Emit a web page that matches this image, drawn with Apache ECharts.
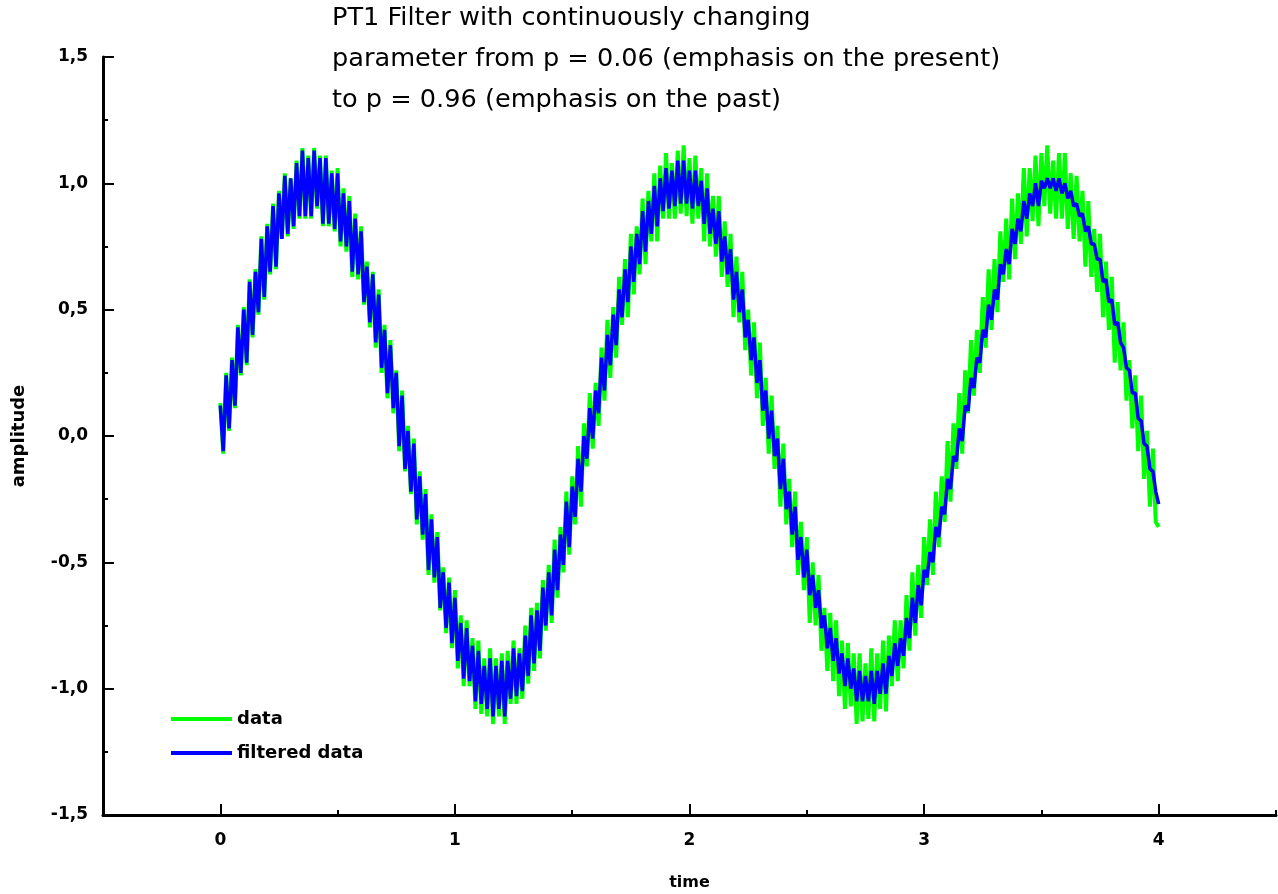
<!DOCTYPE html>
<html>
<head>
<meta charset="utf-8">
<script src="https://cdn.jsdelivr.net/npm/echarts@6/dist/echarts.min.js"></script>
<style>html,body{margin:0;padding:0;background:#fff}#chart{width:1278px;height:894px}</style>
</head>
<body>
<div id="chart"></div>
<script>
const titleLines = [
  'PT1 Filter with continuously changing',
  'parameter from p = 0.06 (emphasis on the present)',
  'to p = 0.96 (emphasis on the past)'
];
const seriesNames = ['data', 'filtered data'];
const xMajorTicks = [0, 1, 2, 3, 4];
const xMinorTicks = [0.5, 1.5, 2.5, 3.5, 4.5];
const yTickLabels = {'-1.5':'-1,5','-1':'-1,0','-0.5':'-0,5','0':'0,0','0.5':'0,5','1':'1,0','1.5':'1,5'};

const times = [
  0,.0125,.025,.0375,.05,.0625,.075,.0875,.1,.1125,.125,.1375,.15,.1625,.175,.1875,.2,.2125,.225,.2375,.25,.2625,.275,.2875,.3,.3125,.325,.3375,.35,.3625,.375,.3875,.4,.4125,.425,.4375,.45,.4625,.475,.4875,.5,.5125,.525,.5375,.55,.5625,.575,.5875,.6,.6125,.625,.6375,.65,.6625,.675,.6875,.7,.7125,.725,.7375,.75,.7625,.775,.7875,.8,.8125,.825,.8375,.85,.8625,.875,.8875,.9,.9125,.925,.9375,.95,.9625,.975,.9875,
  1,1.0125,1.025,1.0375,1.05,1.0625,1.075,1.0875,1.1,1.1125,1.125,1.1375,1.15,1.1625,1.175,1.1875,1.2,1.2125,1.225,1.2375,1.25,1.2625,1.275,1.2875,1.3,1.3125,1.325,1.3375,1.35,1.3625,1.375,1.3875,1.4,1.4125,1.425,1.4375,1.45,1.4625,1.475,1.4875,1.5,1.5125,1.525,1.5375,1.55,1.5625,1.575,1.5875,1.6,1.6125,1.625,1.6375,1.65,1.6625,1.675,1.6875,1.7,1.7125,1.725,1.7375,1.75,1.7625,1.775,1.7875,1.8,1.8125,1.825,1.8375,1.85,1.8625,1.875,1.8875,1.9,1.9125,1.925,1.9375,1.95,1.9625,1.975,1.9875,
  2,2.0125,2.025,2.0375,2.05,2.0625,2.075,2.0875,2.1,2.1125,2.125,2.1375,2.15,2.1625,2.175,2.1875,2.2,2.2125,2.225,2.2375,2.25,2.2625,2.275,2.2875,2.3,2.3125,2.325,2.3375,2.35,2.3625,2.375,2.3875,2.4,2.4125,2.425,2.4375,2.45,2.4625,2.475,2.4875,2.5,2.5125,2.525,2.5375,2.55,2.5625,2.575,2.5875,2.6,2.6125,2.625,2.6375,2.65,2.6625,2.675,2.6875,2.7,2.7125,2.725,2.7375,2.75,2.7625,2.775,2.7875,2.8,2.8125,2.825,2.8375,2.85,2.8625,2.875,2.8875,2.9,2.9125,2.925,2.9375,2.95,2.9625,2.975,2.9875,
  3,3.0125,3.025,3.0375,3.05,3.0625,3.075,3.0875,3.1,3.1125,3.125,3.1375,3.15,3.1625,3.175,3.1875,3.2,3.2125,3.225,3.2375,3.25,3.2625,3.275,3.2875,3.3,3.3125,3.325,3.3375,3.35,3.3625,3.375,3.3875,3.4,3.4125,3.425,3.4375,3.45,3.4625,3.475,3.4875,3.5,3.5125,3.525,3.5375,3.55,3.5625,3.575,3.5875,3.6,3.6125,3.625,3.6375,3.65,3.6625,3.675,3.6875,3.7,3.7125,3.725,3.7375,3.75,3.7625,3.775,3.7875,3.8,3.8125,3.825,3.8375,3.85,3.8625,3.875,3.8875,3.9,3.9125,3.925,3.9375,3.95,3.9625,3.975,3.9875,
  4
];

const rawData = [
  .13,-.07, .25,.02, .31,.11, .44,.24, .51,.28, .62,.39, .66,.48, .79,.54, .84,.64, .92,.66,
  .97,.78, 1.04,.79, 1.02,.82, 1.09,.86, 1.14,.86, 1.11,.86, 1.14,.90, 1.11,.83, 1.11,.83, 1.05,.81,
  1.06,.75, .98,.73, .95,.63, .88,.62, .83,.52, .69,.43, .65,.35, .58,.25, .44,.15, .38,.09,
  .26,-.06, .18,-.14, .04,-.23, -.01,-.35, -.14,-.41, -.21,-.55, -.31,-.58, -.38,-.69, -.52,-.78, -.56,-.84,
  -.61,-.92, -.71,-.99, -.73,-.99, -.80,-1.08, -.81,-1.10, -.88,-1.11, -.84,-1.14, -.88,-1.11, -.86,-1.14, -.85,-1.06,
  -.81,-1.06, -.84,-1.04, -.75,-.98, -.68,-.93, -.66,-.88, -.57,-.77, -.51,-.74, -.41,-.64, -.36,-.54, -.22,-.47,
  -.16,-.35, -.04,-.28, .05,-.12, .17,-.05, .21,.04, .35,.14, .46,.23, .51,.31, .63,.44, .70,.47,
  .80,.56, .83,.64, .94,.68, .97,.77, 1.04,.77, 1.07,.86, 1.12,.86, 1.08,.86, 1.13,.88, 1.15,.87,
  1.10,.84, 1.11,.86, 1.06,.77, 1.04,.75, .95,.71, .95,.63, .85,.59, .80,.47, .71,.45, .65,.34,
  .50,.24, .45,.15, .37,.04, .23,-.07, .16,-.13, .04,-.28, -.03,-.35, -.17,-.44, -.22,-.55, -.34,-.61,
  -.40,-.74, -.50,-.75, -.55,-.85, -.68,-.93, -.70,-.97, -.73,-1.03, -.81,-1.08, -.82,-1.07, -.86,-1.14, -.86,-1.13,
  -.90,-1.12, -.84,-1.13, -.86,-1.08, -.81,-1.09, -.79,-.99, -.73,-.97, -.73,-.92, -.63,-.85, -.54,-.79, -.51,-.72,
  -.40,-.59, -.33,-.55, -.22,-.44, -.16,-.34, -.02,-.26, .05,-.13, .17,-.07, .26,.09, .38,.16, .42,.25,
  .55,.35, .66,.42, .70,.49, .81,.61, .86,.62, .94,.70, .96,.76, 1.06,.79, 1.06,.85, 1.11,.83,
  1.12,.91, 1.15,.88, 1.09,.86, 1.12,.86, 1.12,.82, 1.04,.78, 1.03,.77, .97,.67, .93,.63, .82,.57,
  .80,.47, .69,.42, .63,.29, .53,.26, .45,.14, .30,.03, .24,-.06, .16,-.17, .02,-.28, -.05,-.34,
  -.36
];

const filteredData = [
  .12,-.06, .24,.03, .30,.12, .43,.25, .50,.29, .61,.40, .65,.49, .78,.55, .83,.65, .91,.67,
  .96,.78, 1.03,.80, 1.02,.83, 1.08,.87, 1.13,.87, 1.10,.87, 1.13,.91, 1.10,.84, 1.10,.84, 1.04,.82,
  1.04,.77, .96,.75, .93,.65, .86,.64, .81,.53, .67,.45, .64,.37, .56,.27, .42,.17, .36,.11,
  .25,-.04, .16,-.13, .02,-.22, -.03,-.33, -.16,-.39, -.23,-.53, -.33,-.56, -.40,-.68, -.54,-.76, -.58,-.82,
  -.64,-.89, -.74,-.96, -.76,-.97, -.83,-1.05, -.85,-1.06, -.91,-1.08, -.88,-1.11, -.91,-1.08, -.89,-1.11, -.89,-1.04,
  -.84,-1.03, -.86,-1.01, -.79,-.95, -.71,-.90, -.69,-.85, -.60,-.75, -.54,-.71, -.45,-.61, -.39,-.51, -.26,-.44,
  -.20,-.32, -.09,-.22, .00,-.09, .11,-.01, .18,.09, .31,.18, .40,.28, .48,.36, .58,.47, .66,.53,
  .75,.61, .80,.68, .89,.73, .93,.80, .99,.83, 1.02,.89, 1.06,.90, 1.05,.91, 1.09,.92, 1.09,.92,
  1.05,.90, 1.05,.91, 1.01,.84, .98,.80, .90,.76, .89,.69, .79,.64, .74,.54, .65,.49, .58,.39,
  .46,.30, .39,.21, .30,.10, .18,-.01, .10,-.08, -.01,-.21, -.09,-.29, -.22,-.39, -.28,-.49, -.40,-.56,
  -.45,-.63, -.55,-.68, -.61,-.76, -.71,-.84, -.76,-.89, -.80,-.94, -.86,-.99, -.88,-1.00, -.92,-1.05, -.93,-1.05,
  -.95,-1.05, -.93,-1.06, -.93,-1.02, -.90,-1.02, -.87,-.95, -.82,-.91, -.80,-.87, -.72,-.80, -.64,-.74, -.59,-.67,
  -.53,-.56, -.46,-.50, -.36,-.40, -.28,-.31, -.17,-.21, -.08,-.10, .03,-.02, .12,.10, .23,.19, .31,.29,
  .42,.39, .52,.46, .58,.54, .68,.64, .74,.68, .82,.76, .86,.81, .93,.86, .96,.91, 1.00,.91,
  1.01,.98, 1.02,.98, 1.02,.97, 1.02,.96, 1.00,.94, .97,.91, .92,.87, .88,.81, .83,.76, .76,.70,
  .70,.61, .62,.53, .54,.44, .45,.37, .35,.27, .26,.17, .17,.07, .06,-.03, -.04,-.13, -.14,-.22,
  -.27
];

const FONT = 'DejaVu Sans';
const chart = echarts.init(document.getElementById('chart'), null, {renderer: 'canvas'});

const axisLineStyle = {color: '#000', width: 3};
const tickStyle = {color: '#000', width: 2};

chart.setOption({
  animation: false,
  backgroundColor: '#fff',
  title: {
    text: titleLines.join('\n'),
    left: 332,
    top: -2,
    padding: 0,
    textStyle: {fontFamily: FONT, fontSize: 25.6, fontWeight: 'normal', color: '#000', lineHeight: 41}
  },
  legend: {
    orient: 'vertical',
    left: 171,
    top: 709,
    padding: 0,
    icon: 'rect',
    itemWidth: 61,
    itemHeight: 4,
    itemGap: 14,
    data: seriesNames,
    textStyle: {fontFamily: FONT, fontSize: 18, fontWeight: 'bold', color: '#000', lineHeight: 20}
  },
  grid: {left: 103, right: 2, top: 57, bottom: 79, containLabel: false, outerBoundsMode: 'none'},
  xAxis: [
    {
      type: 'value', min: -0.5, max: 4.5, position: 'bottom',
      name: 'time', nameLocation: 'middle', nameGap: 60,
      nameTextStyle: {fontFamily: FONT, fontSize: 16, fontWeight: 'bold', color: '#000'},
      axisLine: {show: true, onZero: false, lineStyle: axisLineStyle},
      axisTick: {show: true, inside: true, length: 11, customValues: xMajorTicks, lineStyle: tickStyle},
      axisLabel: {customValues: xMajorTicks, margin: 17, fontFamily: FONT, fontSize: 17, fontWeight: 'bold', color: '#000',
        formatter: v => String(v)},
      splitLine: {show: false}
    },
    {
      type: 'value', min: -0.5, max: 4.5, position: 'bottom',
      axisLine: {show: false, onZero: false},
      axisTick: {show: true, inside: true, length: 5, customValues: xMinorTicks, lineStyle: tickStyle},
      axisLabel: {show: false},
      splitLine: {show: false}
    }
  ],
  yAxis: {
    type: 'value', min: -1.5, max: 1.5, interval: 0.5,
    name: 'amplitude', nameLocation: 'middle', nameGap: 75, nameRotate: 90,
    nameTextStyle: {fontFamily: FONT, fontSize: 18, fontWeight: 'bold', color: '#000'},
    axisLine: {show: true, onZero: false, lineStyle: axisLineStyle},
    axisTick: {show: true, inside: true, length: 11, lineStyle: tickStyle},
    minorTick: {show: true, splitNumber: 2, length: 5, lineStyle: tickStyle},
    axisLabel: {margin: 15, fontFamily: FONT, fontSize: 17, fontWeight: 'bold', color: '#000',
      padding: [0, 0, 8, 0],
      formatter: v => yTickLabels[String(v)] || String(v)},
    splitLine: {show: false},
    minorSplitLine: {show: false}
  },
  series: [
    {
      name: seriesNames[0], type: 'line', xAxisIndex: 0,
      data: times.map((t, i) => [t, rawData[i]]),
      showSymbol: false, symbol: 'none',
      lineStyle: {color: '#00ff00', width: 4},
      itemStyle: {color: '#00ff00'}
    },
    {
      name: seriesNames[1], type: 'line', xAxisIndex: 0,
      data: times.map((t, i) => [t, filteredData[i]]),
      showSymbol: false, symbol: 'none',
      lineStyle: {color: '#0000ff', width: 3.5},
      itemStyle: {color: '#0000ff'}
    }
  ]
});
</script>
</body>
</html>
